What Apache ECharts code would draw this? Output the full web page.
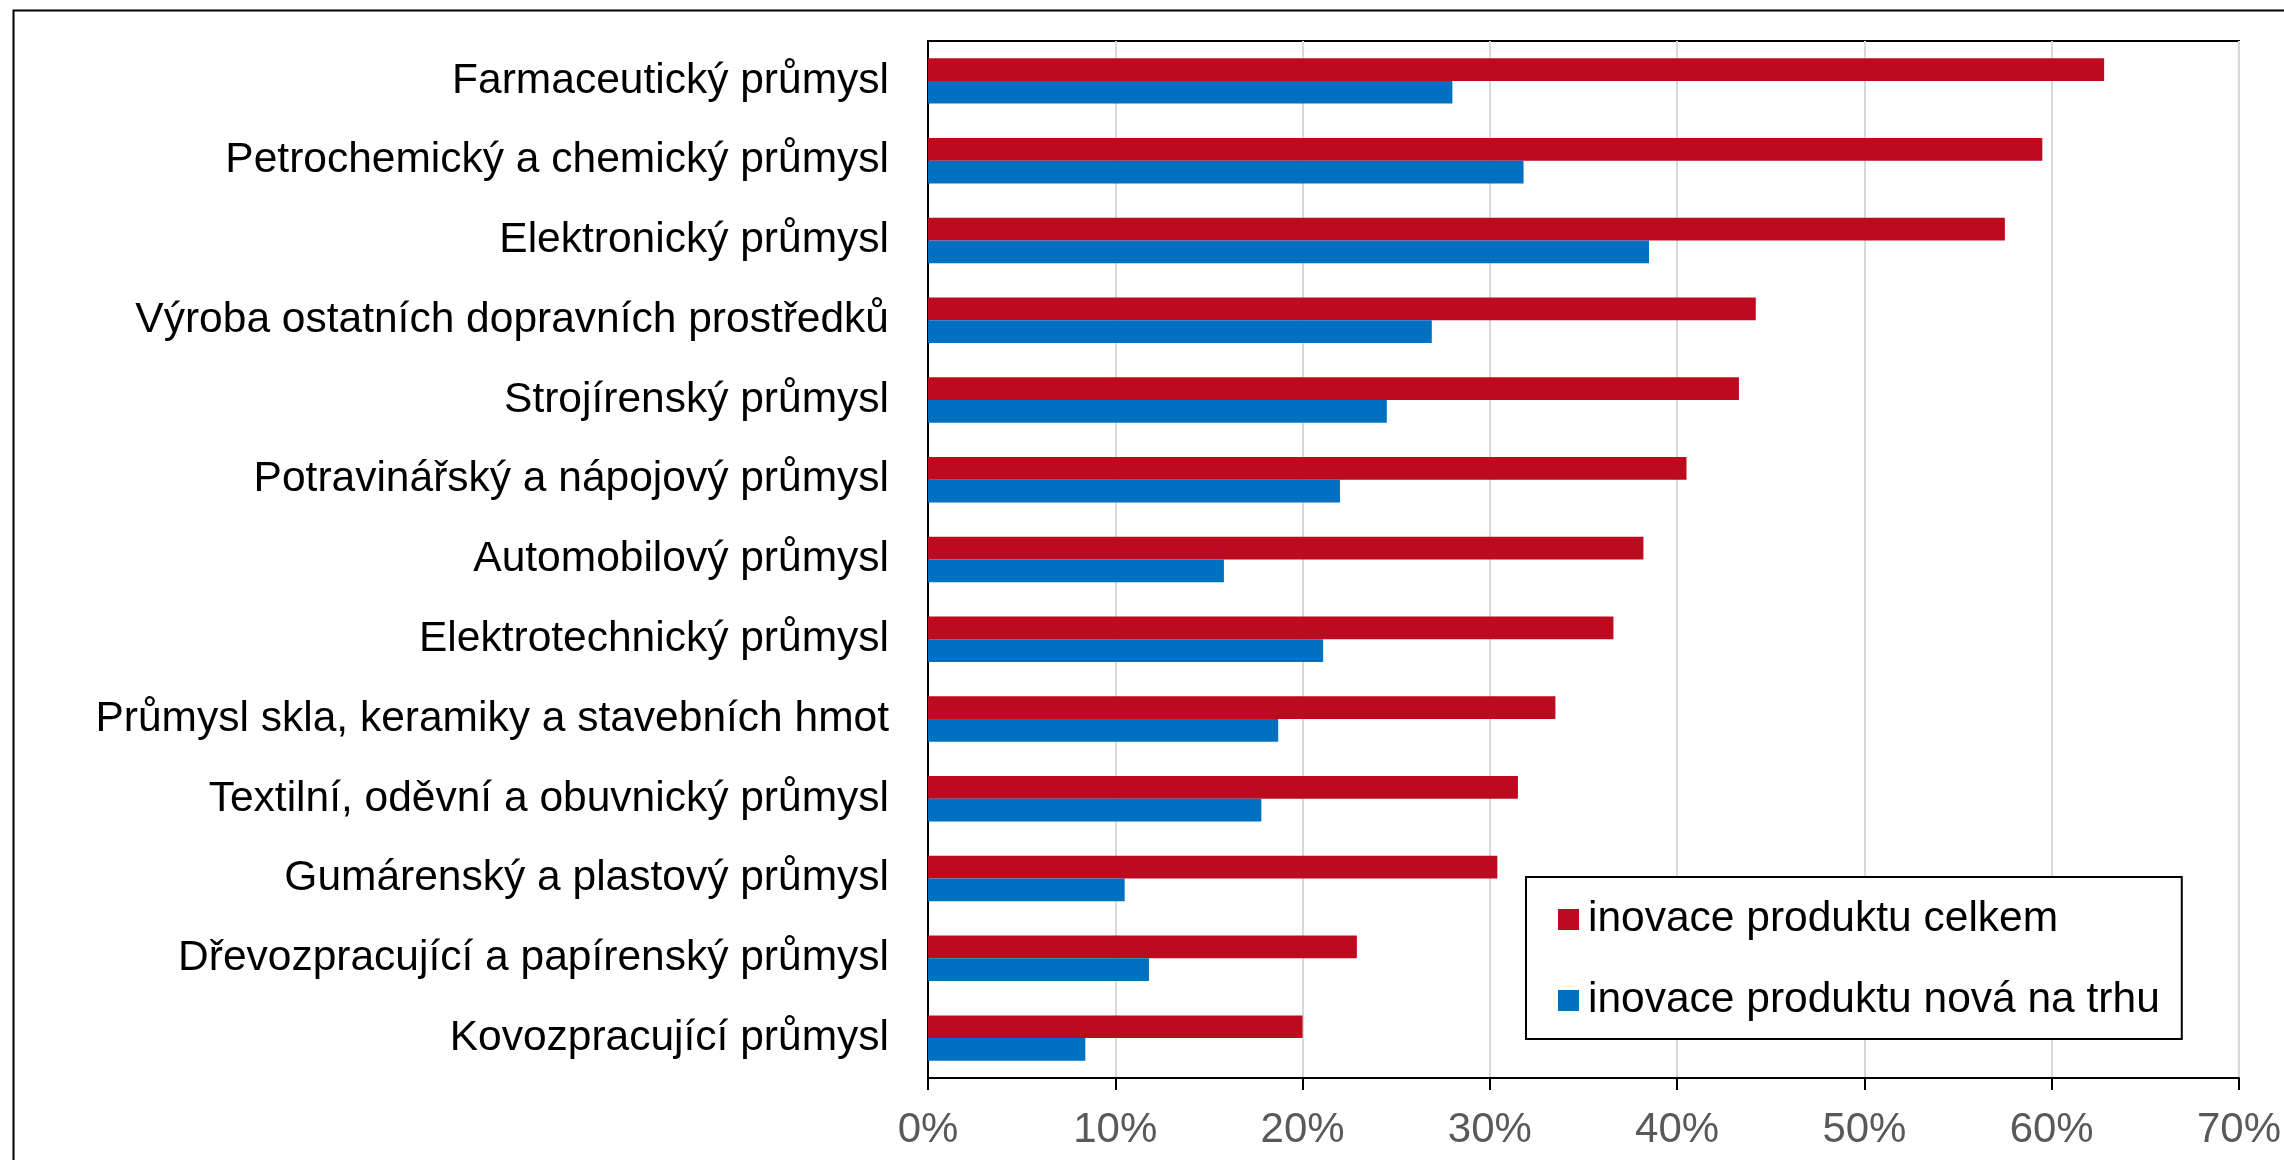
<!DOCTYPE html>
<html>
<head>
<meta charset="utf-8">
<script src="https://cdn.jsdelivr.net/npm/echarts@6/dist/echarts.min.js"></script>
<style>
  html, body { margin: 0; padding: 0; background: #ffffff; }
  #chart { width: 2284px; height: 1160px; }
</style>
</head>
<body>
<div id="chart"></div>
<script>
const categories = [
  'Farmaceutický průmysl',
  'Petrochemický a chemický průmysl',
  'Elektronický průmysl',
  'Výroba ostatních dopravních prostředků',
  'Strojírenský průmysl',
  'Potravinářský a nápojový průmysl',
  'Automobilový průmysl',
  'Elektrotechnický průmysl',
  'Průmysl skla, keramiky a stavebních hmot',
  'Textilní, oděvní a obuvnický průmysl',
  'Gumárenský a plastový průmysl',
  'Dřevozpracující a papírenský průmysl',
  'Kovozpracující průmysl'
];
const seriesNames = ['inovace produktu celkem', 'inovace produktu nová na trhu'];
const totalValues = [62.8, 59.5, 57.5, 44.2, 43.3, 40.5, 38.2, 36.6, 33.5, 31.5, 30.4, 22.9, 20.0];
const newToMarketValues = [28.0, 31.8, 38.5, 26.9, 24.5, 22.0, 15.8, 21.1, 18.7, 17.8, 10.5, 11.8, 8.4];
const xTicks = { min: 0, max: 70, interval: 10 };

const FONT = '"Liberation Sans", Arial, Helvetica, sans-serif';
const chart = echarts.init(document.getElementById('chart'), null, { renderer: 'canvas' });

chart.setOption({
  backgroundColor: '#ffffff',
  animation: false,
  textStyle: { fontFamily: FONT },
  graphic: [{
    type: 'rect',
    left: 11, top: 8,
    shape: { width: 3000, height: 3000 },
    style: { fill: 'none', stroke: '#000000', lineWidth: 2 },
    silent: true,
    z: -10
  }],
  grid: {
    left: 928, right: 42, top: 41, bottom: 82,
    containLabel: false,
    show: true,
    borderColor: '#000000',
    borderWidth: 2,
    backgroundColor: 'transparent'
  },
  legend: {
    orient: 'vertical',
    left: 1526, top: 877,
    data: seriesNames,
    itemWidth: 21, itemHeight: 21,
    itemGap: 38,
    icon: 'rect',
    padding: [21, 22, 17, 32],
    borderColor: '#000000',
    borderWidth: 2,
    backgroundColor: '#ffffff',
    textStyle: { fontFamily: FONT, fontSize: 42.5, color: '#000000', lineHeight: 42, padding: [0, 0, 0, 4] }
  },
  xAxis: {
    type: 'value',
    min: xTicks.min, max: xTicks.max, interval: xTicks.interval,
    axisLine: { show: true, lineStyle: { color: '#000000', width: 2 } },
    axisTick: { show: true, length: 12, lineStyle: { color: '#000000', width: 2 } },
    splitLine: { show: true, lineStyle: { color: '#d9d9d9', width: 2 } },
    axisLabel: { formatter: '{value}%', fontFamily: FONT, fontSize: 42, color: '#595959', margin: 31 }
  },
  yAxis: {
    type: 'category',
    inverse: true,
    data: categories,
    axisLine: { show: true, lineStyle: { color: '#000000', width: 2 } },
    axisTick: { show: false },
    splitLine: { show: false },
    axisLabel: { fontFamily: FONT, fontSize: 42.5, color: '#000000', margin: 39 }
  },
  series: [
    {
      name: seriesNames[0], type: 'bar', data: totalValues,
      itemStyle: { color: '#BC0A1E' },
      barGap: '0%', barCategoryGap: '43%'
    },
    {
      name: seriesNames[1], type: 'bar', data: newToMarketValues,
      itemStyle: { color: '#0070C0' },
      barGap: '0%', barCategoryGap: '43%'
    }
  ]
});
</script>
</body>
</html>
